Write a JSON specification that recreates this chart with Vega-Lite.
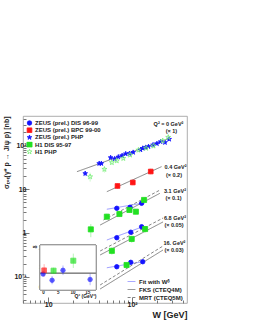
{
"$schema":"https://vega.github.io/schema/vega-lite/v6.json",
"width":164,"height":187,
"autosize":{"type":"none"},
"padding":{"left":23,"top":116,"right":66,"bottom":24},
"background":"white",
"config":{"view":{"stroke":"#999","strokeWidth":0.8},"font":"Liberation Sans",
 "axis":{"grid":false,"domain":false,"labelFont":"Liberation Sans","labelFontWeight":"bold","titleFont":"Liberation Sans","titleFontWeight":"bold","tickColor":"#777","labelColor":"#222","titleColor":"#222","labelOverlap":false,"labelBound":false},
 "legend":{"labelFont":"Liberation Sans","labelFontWeight":"bold","labelColor":"#222"}},
"datasets":{
"pts":[
{"set":"ZEUS (prel.) PHP","W":27.6,"s":23,"lo":20,"hi":26},
{"set":"ZEUS (prel.) PHP","W":40.5,"s":39,"lo":36,"hi":42},
{"set":"ZEUS (prel.) PHP","W":43,"s":39,"lo":36,"hi":42},
{"set":"ZEUS (prel.) PHP","W":55.5,"s":53,"lo":49,"hi":57},
{"set":"ZEUS (prel.) PHP","W":62,"s":50,"lo":46,"hi":54},
{"set":"ZEUS (prel.) PHP","W":68.5,"s":55,"lo":51,"hi":59},
{"set":"ZEUS (prel.) PHP","W":76,"s":59,"lo":55,"hi":63},
{"set":"ZEUS (prel.) PHP","W":84,"s":65,"lo":61,"hi":69},
{"set":"ZEUS (prel.) PHP","W":93,"s":66,"lo":62,"hi":70},
{"set":"ZEUS (prel.) PHP","W":103,"s":70,"lo":66,"hi":74},
{"set":"ZEUS (prel.) PHP","W":126,"s":80,"lo":75,"hi":85},
{"set":"ZEUS (prel.) PHP","W":134,"s":87,"lo":82,"hi":92},
{"set":"ZEUS (prel.) PHP","W":145,"s":91,"lo":86,"hi":96},
{"set":"ZEUS (prel.) PHP","W":157,"s":95,"lo":89,"hi":101},
{"set":"ZEUS (prel.) PHP","W":178,"s":104,"lo":97,"hi":111},
{"set":"ZEUS (prel.) PHP","W":198,"s":111,"lo":104,"hi":118},
{"set":"ZEUS (prel.) PHP","W":219,"s":123,"lo":115,"hi":131},
{"set":"ZEUS (prel.) PHP","W":247,"s":118,"lo":110,"hi":127},
{"set":"ZEUS (prel.) PHP","W":277,"s":140,"lo":128,"hi":152},
{"set":"H1 PHP","W":31.6,"s":19.4,"lo":15,"hi":24},
{"set":"H1 PHP","W":46.8,"s":28.7,"lo":24,"hi":33},
{"set":"H1 PHP","W":57.4,"s":41,"lo":36,"hi":46},
{"set":"H1 PHP","W":65.7,"s":45,"lo":40,"hi":50},
{"set":"H1 PHP","W":78.6,"s":51,"lo":46,"hi":56},
{"set":"H1 PHP","W":94.6,"s":61,"lo":55,"hi":67},
{"set":"H1 PHP","W":119,"s":79,"lo":71,"hi":87},
{"set":"H1 PHP","W":147,"s":87,"lo":79,"hi":95},
{"set":"H1 PHP","W":180,"s":98,"lo":89,"hi":107},
{"set":"H1 PHP","W":232,"s":129,"lo":115,"hi":143},
{"set":"H1 PHP","W":270,"s":155,"lo":138,"hi":172},
{"set":"ZEUS (prel.) BPC 99-00","W":67,"s":11.9,"lo":10.3,"hi":13.6},
{"set":"ZEUS (prel.) BPC 99-00","W":102,"s":14.3,"lo":12.4,"hi":16.4},
{"set":"ZEUS (prel.) BPC 99-00","W":167,"s":25.5,"lo":22,"hi":29.5},
{"set":"ZEUS (prel.) DIS 96-99","W":65.7,"s":3.67,"lo":3.3,"hi":4.1},
{"set":"ZEUS (prel.) DIS 96-99","W":94.6,"s":3.87,"lo":3.5,"hi":4.3},
{"set":"ZEUS (prel.) DIS 96-99","W":130,"s":4.78,"lo":4.3,"hi":5.3},
{"set":"H1 DIS 95-97","W":32.2,"s":1.21,"lo":0.8,"hi":1.6},
{"set":"H1 DIS 95-97","W":50,"s":2.36,"lo":2.0,"hi":2.75},
{"set":"H1 DIS 95-97","W":70.7,"s":2.72,"lo":2.35,"hi":3.1},
{"set":"H1 DIS 95-97","W":93,"s":3.36,"lo":2.9,"hi":3.8},
{"set":"H1 DIS 95-97","W":111,"s":3.07,"lo":2.65,"hi":3.5},
{"set":"H1 DIS 95-97","W":139,"s":5.7,"lo":4.9,"hi":6.5},
{"set":"ZEUS (prel.) DIS 96-99","W":65.7,"s":0.78,"lo":0.7,"hi":0.87},
{"set":"ZEUS (prel.) DIS 96-99","W":96.5,"s":1.04,"lo":0.93,"hi":1.15},
{"set":"ZEUS (prel.) DIS 96-99","W":130,"s":1.39,"lo":1.25,"hi":1.55},
{"set":"H1 DIS 95-97","W":57.4,"s":0.39,"lo":0.32,"hi":0.47},
{"set":"H1 DIS 95-97","W":99,"s":0.73,"lo":0.6,"hi":0.86},
{"set":"H1 DIS 95-97","W":143,"s":1.23,"lo":1.02,"hi":1.45},
{"set":"ZEUS (prel.) DIS 96-99","W":65.7,"s":0.169,"lo":0.15,"hi":0.19},
{"set":"ZEUS (prel.) DIS 96-99","W":96.5,"s":0.213,"lo":0.19,"hi":0.24},
{"set":"ZEUS (prel.) DIS 96-99","W":134,"s":0.22,"lo":0.195,"hi":0.245},
{"set":"H1 DIS 95-97","W":86,"s":0.185,"lo":0.16,"hi":0.21}
],
"lines":[
{"model":"FKS (CTEQ4M)","grp":"0","W":22,"s":25.3},{"model":"FKS (CTEQ4M)","grp":"0","W":280,"s":146},
{"model":"FKS (CTEQ4M)","grp":"0.4","W":50,"s":8.8},{"model":"FKS (CTEQ4M)","grp":"0.4","W":225,"s":33},
{"model":"Fit with Wᵟ","grp":"3.1","W":50,"s":3.49},{"model":"Fit with Wᵟ","grp":"3.1","W":130,"s":4.78},
{"model":"FKS (CTEQ4M)","grp":"3.1","W":41.6,"s":1.52},{"model":"FKS (CTEQ4M)","grp":"3.1","W":215,"s":8.1},
{"model":"MRT (CTEQ5M)","grp":"3.1","W":45.5,"s":1.98},{"model":"MRT (CTEQ5M)","grp":"3.1","W":215,"s":9.6},
{"model":"Fit with Wᵟ","grp":"6.8","W":50,"s":0.69},{"model":"Fit with Wᵟ","grp":"6.8","W":134,"s":1.39},
{"model":"FKS (CTEQ4M)","grp":"6.8","W":41.6,"s":0.314},{"model":"FKS (CTEQ4M)","grp":"6.8","W":234,"s":1.79},
{"model":"MRT (CTEQ5M)","grp":"6.8","W":41.6,"s":0.387},{"model":"MRT (CTEQ5M)","grp":"6.8","W":234,"s":2.2},
{"model":"Fit with Wᵟ","grp":"16","W":50,"s":0.16},{"model":"Fit with Wᵟ","grp":"16","W":134,"s":0.22},
{"model":"FKS (CTEQ4M)","grp":"16","W":41.6,"s":0.0523},{"model":"FKS (CTEQ4M)","grp":"16","W":234,"s":0.408},
{"model":"MRT (CTEQ5M)","grp":"16","W":41.6,"s":0.0646},{"model":"MRT (CTEQ5M)","grp":"16","W":234,"s":0.504}
],
"labels":[
{"t":"Q² = 0 GeV²","W":272,"s":312},{"t":"(× 1)","W":295,"s":216},
{"t":"0.4 GeV²","W":330,"s":32.4},{"t":"(× 0.2)","W":316,"s":21.2},
{"t":"3.1 GeV²","W":325,"s":9.14},{"t":"(× 0.1)","W":312,"s":6.32},
{"t":"6.8 GeV²","W":325,"s":2.2},{"t":"(× 0.05)","W":316,"s":1.52},
{"t":"16. GeV²","W":320,"s":0.59},{"t":"(× 0.03)","W":316,"s":0.408}
],
"inset":[
{"set":"ZEUS (prel.) DIS 96-99","q2":0.05,"d":0.68,"lo":0.6,"hi":0.76},
{"set":"ZEUS (prel.) BPC 99-00","q2":0.4,"d":0.88,"lo":0.55,"hi":1.2},
{"set":"H1 DIS 95-97","q2":3.6,"d":0.86,"lo":0.7,"hi":1.02},
{"set":"ZEUS (prel.) DIS 96-99","q2":3.1,"d":0.36,"lo":0.15,"hi":0.58},
{"set":"ZEUS (prel.) DIS 96-99","q2":6.8,"d":0.88,"lo":0.63,"hi":1.13},
{"set":"H1 DIS 95-97","q2":10.3,"d":1.38,"lo":1.0,"hi":1.75},
{"set":"ZEUS (prel.) DIS 96-99","q2":16,"d":0.4,"lo":0.1,"hi":0.7}
]
},
"layer":[
{
 "encoding":{
  "x":{"field":"W","type":"quantitative","scale":{"type":"log","domain":[5,452],"nice":false},
   "axis":{"orient":"bottom","values":[5,6,7,8,9,10,20,30,40,50,60,70,80,90,100,200,300,400],
    "labelExpr":"datum.value==10?'10':datum.value==100?'10²':''","labelFontSize":7,"labelPadding":3,
    "tickSize":{"condition":{"test":"datum.value==10||datum.value==100","value":-6},"value":-3},
    "title":"W [GeV]","titleFontSize":9,"titleAnchor":"end","titlePadding":0}},
  "y":{"field":"s","type":"quantitative","scale":{"type":"log","domain":[0.025,475],"nice":false},
   "axis":{"orient":"left","values":[0.03,0.04,0.05,0.06,0.07,0.08,0.09,0.1,0.2,0.3,0.4,0.5,0.6,0.7,0.8,0.9,1,2,3,4,5,6,7,8,9,10,20,30,40,50,60,70,80,90,100,200,300,400],
    "labelExpr":"datum.value==0.1?'10⁻¹':datum.value==1?'1':datum.value==10?'10':datum.value==100?'10²':''","labelFontSize":7,"labelPadding":3,
    "tickSize":{"condition":{"test":"datum.value==0.1||datum.value==1||datum.value==10||datum.value==100","value":-6},"value":-3},
    "title":"σₜₒₜ(γ* p → J/ψ p) [nb]","titleFontSize":7,"titleAnchor":"end","titlePadding":4}}
 },
 "layer":[
  {"data":{"name":"lines"},"mark":{"type":"line","strokeWidth":0.8},
   "encoding":{"detail":{"field":"grp"},
    "color":{"field":"model","type":"nominal","scale":{"domain":["Fit with Wᵟ","FKS (CTEQ4M)","MRT (CTEQ5M)"],"range":["#7b7bff","#666666","#666666"]},
     "legend":{"orient":"none","legendX":104,"legendY":161,"title":null,"labelFontSize":6,"symbolSize":60,"symbolStrokeWidth":0.8,"rowPadding":-1,"labelOffset":3,"symbolType":"stroke"}},
    "strokeDash":{"field":"model","type":"nominal","scale":{"domain":["Fit with Wᵟ","FKS (CTEQ4M)","MRT (CTEQ5M)"],"range":[[1,0],[1,0],[3,2]]},"legend":null}}},
  {"data":{"name":"pts"},"mark":{"type":"rule","strokeWidth":0.8,"strokeOpacity":0.45},
   "encoding":{"y":{"field":"lo","type":"quantitative"},"y2":{"field":"hi"},
    "stroke":{"field":"set","type":"nominal"}}},
  {"data":{"name":"pts"},"mark":{"type":"point","strokeWidth":0.8,"opacity":1},
   "encoding":{
    "fill":{"field":"set","type":"nominal","scale":{"domain":["ZEUS (prel.) DIS 96-99","ZEUS (prel.) BPC 99-00","ZEUS (prel.) PHP","H1 DIS 95-97","H1 PHP"],"range":["#1414ff","#ff1414","#1414ff","#22e022","rgba(0,0,0,0)"]},
     "legend":{"orient":"none","legendX":3,"legendY":4,"title":null,"labelFontSize":6,"rowPadding":1.2,"clipHeight":6,"labelOffset":2,"symbolOpacity":1,"symbolStrokeWidth":0.8}},
    "stroke":{"field":"set","type":"nominal","scale":{"domain":["ZEUS (prel.) DIS 96-99","ZEUS (prel.) BPC 99-00","ZEUS (prel.) PHP","H1 DIS 95-97","H1 PHP"],"range":["#1414ff","#ff1414","#1414ff","#22e022","#77ee77"]}},
    "shape":{"field":"set","type":"nominal","scale":{"domain":["ZEUS (prel.) DIS 96-99","ZEUS (prel.) BPC 99-00","ZEUS (prel.) PHP","H1 DIS 95-97","H1 PHP"],"range":["circle","square","M0,-1L0.2245,-0.309L0.951,-0.309L0.363,0.118L0.588,0.809L0,0.382L-0.588,0.809L-0.363,0.118L-0.951,-0.309L-0.2245,-0.309Z","square","M0,-1L0.2245,-0.309L0.951,-0.309L0.363,0.118L0.588,0.809L0,0.382L-0.588,0.809L-0.363,0.118L-0.951,-0.309L-0.2245,-0.309Z"]}},
    "size":{"field":"set","type":"nominal","scale":{"domain":["ZEUS (prel.) DIS 96-99","ZEUS (prel.) BPC 99-00","ZEUS (prel.) PHP","H1 DIS 95-97","H1 PHP"],"range":[20,28,9,24,18]}}}},
  {"data":{"name":"labels"},"mark":{"type":"text","fontSize":5.5,"fontWeight":"bold","font":"Liberation Sans","color":"#222"},
   "encoding":{"text":{"field":"t"}}}
 ]
},
{
 "data":{"name":"inset"},
 "encoding":{
  "x":{"field":"q2","type":"quantitative","scale":{"domain":[-1,18],"range":[17,73],"nice":false,"zero":false},
   "axis":{"orient":"bottom","offset":-13,"values":[0,5,10,15],"labelFontSize":4.5,"tickSize":-2,"labelPadding":1,"title":"Q² (GeV²)","titleFontSize":5,"titleAnchor":"end","titlePadding":0}},
  "y":{"field":"d","type":"quantitative","scale":{"domain":[-0.15,2.2],"range":[174,129],"nice":false,"zero":false},
   "axis":{"orient":"left","offset":-17,"values":[0,1,2],"labelFontSize":4.5,"tickSize":-2,"labelPadding":1,"title":"δ","titleFontSize":5,"titleAnchor":"end","titlePadding":1}}
 },
 "layer":[
  {"mark":{"type":"rect","fill":"white","stroke":"#999","strokeWidth":0.7},
   "encoding":{"x":{"datum":-1},"x2":{"datum":18},"y":{"datum":-0.15},"y2":{"datum":2.2}}},
  {"mark":{"type":"rule","stroke":"#888","strokeWidth":0.7},
   "encoding":{"x":{"datum":-1},"x2":{"datum":18},"y":{"datum":0.72}}},
  {"mark":{"type":"rule","strokeWidth":0.7,"strokeOpacity":0.45},
   "encoding":{"y":{"field":"lo","type":"quantitative"},"y2":{"field":"hi"},"stroke":{"field":"set","type":"nominal"}}},
  {"mark":{"type":"point","strokeWidth":0.8},
   "encoding":{"fill":{"field":"set","type":"nominal"},"stroke":{"field":"set","type":"nominal"},"shape":{"field":"set","type":"nominal"},"size":{"field":"set","type":"nominal"}}}
 ]
}
],
"resolve":{"scale":{"x":"independent","y":"independent"},"axis":{"x":"independent","y":"independent"}}
}
